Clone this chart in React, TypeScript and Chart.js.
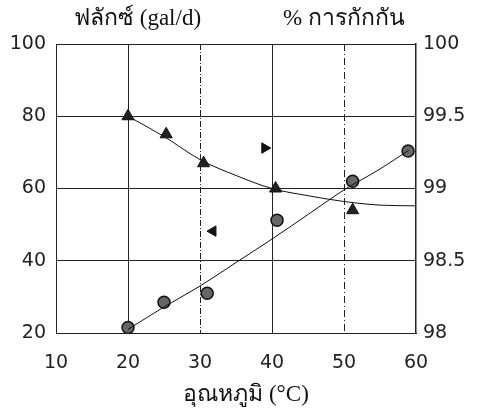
import React, { useEffect, useRef } from "react";
import { Chart, registerables } from "chart.js";

Chart.register(...registerables);

// Temperature (°C)
const xTicks = [10, 20, 30, 40, 50, 60];
// Flux (gal/d), left axis
const fluxX = [20, 25, 31, 40.7, 51.2, 58.9];
const fluxY = [21.5, 28.5, 31, 51.2, 62, 70.4];
const fluxFitX = [20, 25, 30, 35, 40, 45, 50, 55, 59];
const fluxFitY = [21, 27.2, 33, 39.5, 46, 52.8, 59.6, 65.4, 70.6];
// % rejection, right axis
const rejX = [20, 25.3, 30.5, 40.5, 51.2];
const rejY = [99.5, 99.375, 99.175, 99.0, 98.85];
const rejFitX = [20, 25, 30, 35, 40, 45, 50, 55, 60];
const rejFitY = [99.5, 99.36, 99.2, 99.09, 99.0, 98.95, 98.91, 98.885, 98.88];
// stray markers (left axis)
const leftArrowPt = { x: 31.8, y: 48.2 };
const rightArrowPt = { x: 39, y: 71.2 };

const titleLeft = "ฟลักซ์ (gal/d)";
const titleRight = "% การกักกัน";
const titleX = "อุณหภูมิ (°C)";

const FONT = "'DejaVu Sans', sans-serif";
const SERIF = "'Liberation Serif', 'DejaVu Serif', serif";

export default function App() {
  const ref = useRef<HTMLCanvasElement>(null);
  useEffect(() => {
    document.body.style.margin = "0";
    const vgrid = {
      id: "vgrid",
      beforeDatasetsDraw(chart: any) {
        const { ctx, chartArea, scales } = chart;
        const styles: Record<number, number[]> = { 20: [], 30: [6, 2, 1, 2], 40: [], 50: [7, 3, 1, 3] };
        ctx.save();
        ctx.strokeStyle = "#222";
        ctx.lineWidth = 1;
        for (const t of xTicks) {
          if (!(t in styles)) continue;
          const px = Math.round(scales.x.getPixelForValue(t)) + 0.5;
          ctx.setLineDash(styles[t]);
          ctx.beginPath();
          ctx.moveTo(px, chartArea.top);
          ctx.lineTo(px, chartArea.bottom);
          ctx.stroke();
        }
        ctx.restore();
      },
      afterDraw(chart: any) {
        const { ctx } = chart;
        ctx.save();
        ctx.fillStyle = "#111";
        ctx.textBaseline = "alphabetic";
        ctx.font = `23px ${SERIF}`;
        ctx.textAlign = "left";
        ctx.fillText(titleLeft, 74, 25);
        ctx.fillText(titleRight, 283, 25);
        ctx.textAlign = "center";
        ctx.fillText(titleX, 246, 401);
        ctx.restore();
      },
    };

    const chart = new Chart(ref.current!, {
      type: "line",
      data: {
        datasets: [
          {
            label: "fluxFit",
            data: fluxFitX.map((x, i) => ({ x, y: fluxFitY[i] })),
            borderColor: "#111",
            borderWidth: 1,
            pointRadius: 0,
            cubicInterpolationMode: "monotone",
            yAxisID: "y",
          },
          {
            label: "rejFit",
            data: rejFitX.map((x, i) => ({ x, y: rejFitY[i] })),
            borderColor: "#111",
            borderWidth: 1,
            pointRadius: 0,
            cubicInterpolationMode: "monotone",
            yAxisID: "y1",
          },
          {
            label: "flux",
            data: fluxX.map((x, i) => ({ x, y: fluxY[i] })),
            showLine: false,
            pointStyle: "circle",
            pointRadius: 6,
            backgroundColor: "#666",
            borderColor: "#111",
            borderWidth: 1.5,
            yAxisID: "y",
          },
          {
            label: "rej",
            data: rejX.map((x, i) => ({ x, y: rejY[i] })),
            showLine: false,
            pointStyle: "triangle",
            pointRadius: 7,
            backgroundColor: "#222",
            borderColor: "#111",
            borderWidth: 1,
            yAxisID: "y1",
          },
          {
            label: "left",
            data: [leftArrowPt],
            showLine: false,
            pointStyle: "triangle",
            rotation: -90,
            pointRadius: 6,
            backgroundColor: "#111",
            borderColor: "#111",
            yAxisID: "y",
          },
          {
            label: "right",
            data: [rightArrowPt],
            showLine: false,
            pointStyle: "triangle",
            rotation: 90,
            pointRadius: 6,
            backgroundColor: "#111",
            borderColor: "#111",
            yAxisID: "y",
          },
        ],
      },
      options: {
        animation: false,
        responsive: false,
        maintainAspectRatio: false,
        layout: { padding: { top: 44, left: 0, right: 0, bottom: 0 } },
        plugins: { legend: { display: false }, tooltip: { enabled: false } },
        scales: {
          x: {
            type: "linear",
            min: 10,
            max: 60,
            afterBuildTicks: (s: any) => {
              s.ticks = xTicks.map((v) => ({ value: v }));
            },
            afterFit: (s: any) => {
              s.height = 77;
            },
            grid: { display: false, drawTicks: false },
            border: { display: true, color: "#222", width: 1 },
            ticks: { padding: 19, color: "#222", font: { family: FONT, size: 19 } },
          },
          y: {
            position: "left",
            min: 20,
            max: 100,
            ticks: { stepSize: 20, padding: 10, color: "#222", font: { family: FONT, size: 19 } },
            afterFit: (s: any) => {
              s.width = 56;
            },
            grid: { color: "#222", lineWidth: 1, drawTicks: false },
            border: { display: true, color: "#222", width: 1 },
          },
          y1: {
            position: "right",
            min: 98,
            max: 100,
            ticks: {
              stepSize: 0.5,
              padding: 7,
              color: "#222",
              font: { family: FONT, size: 19 },
              callback: (v: any) => `${v}`,
            },
            afterFit: (s: any) => {
              s.width = 65;
            },
            grid: { display: false, drawTicks: false },
            border: { display: true, color: "#222", width: 1.5, dash: [2, 2] },
          },
        },
      },
      plugins: [vgrid],
    } as any);
    return () => chart.destroy();
  }, []);
  return (
    <div style={{ position: "absolute", left: 0, top: 0, width: 481, height: 410, background: "#fff" }}>
      <canvas ref={ref} width={481} height={410} style={{ width: 481, height: 410 }} />
    </div>
  );
}
